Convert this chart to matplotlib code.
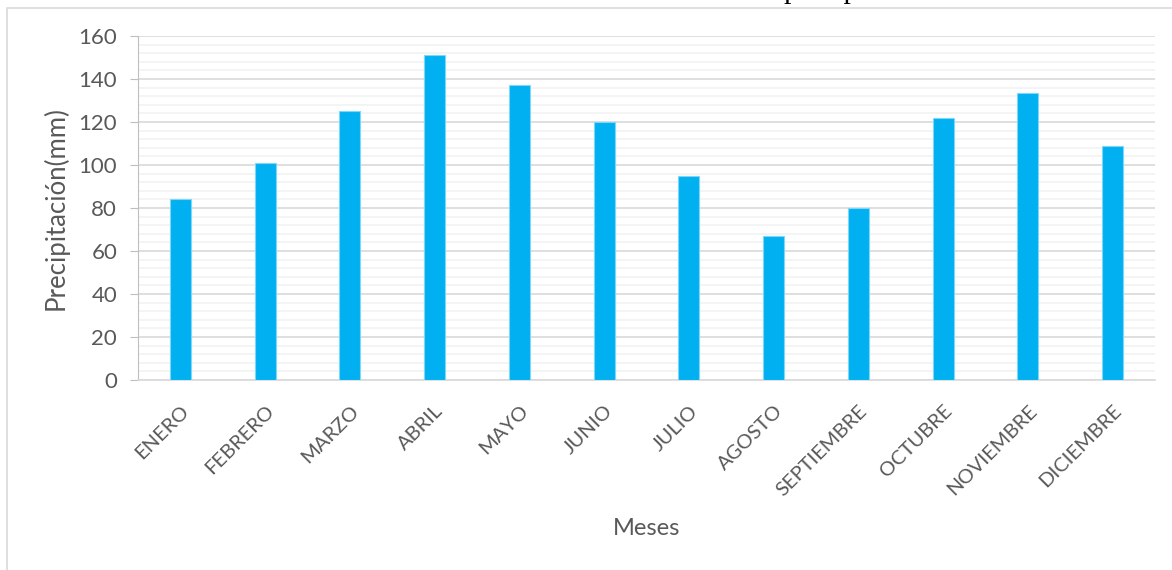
import numpy as np
import matplotlib
matplotlib.use("Agg")
import matplotlib.pyplot as plt
from matplotlib.patches import Rectangle
from matplotlib.ticker import MultipleLocator

meses = ["ENERO", "FEBRERO", "MARZO", "ABRIL", "MAYO", "JUNIO", "JULIO",
         "AGOSTO", "SEPTIEMBRE", "OCTUBRE", "NOVIEMBRE", "DICIEMBRE"]
precipitacion = [84.3, 100.8, 124.9, 151.3, 137.0, 120.0, 94.7,
                 67.1, 80.1, 122.0, 133.3, 108.9]
titulo = "Grafica 1. Promedio mensual multianual de precipitación"

plt.rcParams['font.family'] = ['Lato', 'DejaVu Sans']

fig = plt.figure(figsize=(11.72, 5.70), dpi=100)
W, H = 1172, 570
# caja de ejes en pixeles: izq 138, der 1155, arriba 36, abajo 380
ax = fig.add_axes([138 / W, 1 - 380 / H, (1155 - 138) / W, (380 - 36) / H])

# marco del grafico
fig.patches.append(Rectangle((6.5 / W, -0.1), 1.2, 1 - 7.5 / H + 0.1,
                             transform=fig.transFigure, fill=False,
                             edgecolor='#d9d9d9', linewidth=1.2))

x = np.arange(len(meses))
ax.bar(x, precipitacion, width=0.25, color='#00b0f0',
       edgecolor='#7fd7f7', linewidth=0.8, zorder=3)

ax.set_xlim(-0.5, len(meses) - 0.5)
ax.set_ylim(0, 160)
ax.yaxis.set_major_locator(MultipleLocator(20))
ax.yaxis.set_minor_locator(MultipleLocator(4))
ax.grid(axis='y', which='major', color='#d9d9d9', linewidth=1.2, zorder=0)
ax.grid(axis='y', which='minor', color='#f2f2f2', linewidth=1.2, zorder=0)

for s in ['top', 'right']:
    ax.spines[s].set_visible(False)
ax.spines['left'].set_color('#bfbfbf')
ax.spines['bottom'].set_color('#d9d9d9')
ax.spines['bottom'].set_linewidth(1.2)

ax.set_xticks(x)
ax.set_xticklabels(meses, rotation=45, ha='right', rotation_mode='anchor',
                   fontsize=14.5, color='#595959')
ax.tick_params(axis='x', length=0, pad=16)
ax.tick_params(axis='y', which='major', length=6, color='#bfbfbf',
               labelsize=16, labelcolor='#595959', pad=9)
ax.tick_params(axis='y', which='minor', length=0)

ax.set_ylabel("Precipitación(mm)", fontsize=18.5, color='#595959', labelpad=7)
ax.set_xlabel("Meses", fontsize=17, color='#595959', labelpad=14)

fig.text(598 / W, 1 + 2 / H, titulo, ha='center', va='baseline',
         fontsize=21.5, family=['Liberation Serif', 'DejaVu Serif'],
         color='black')

fig.savefig("out.png", dpi=100)
